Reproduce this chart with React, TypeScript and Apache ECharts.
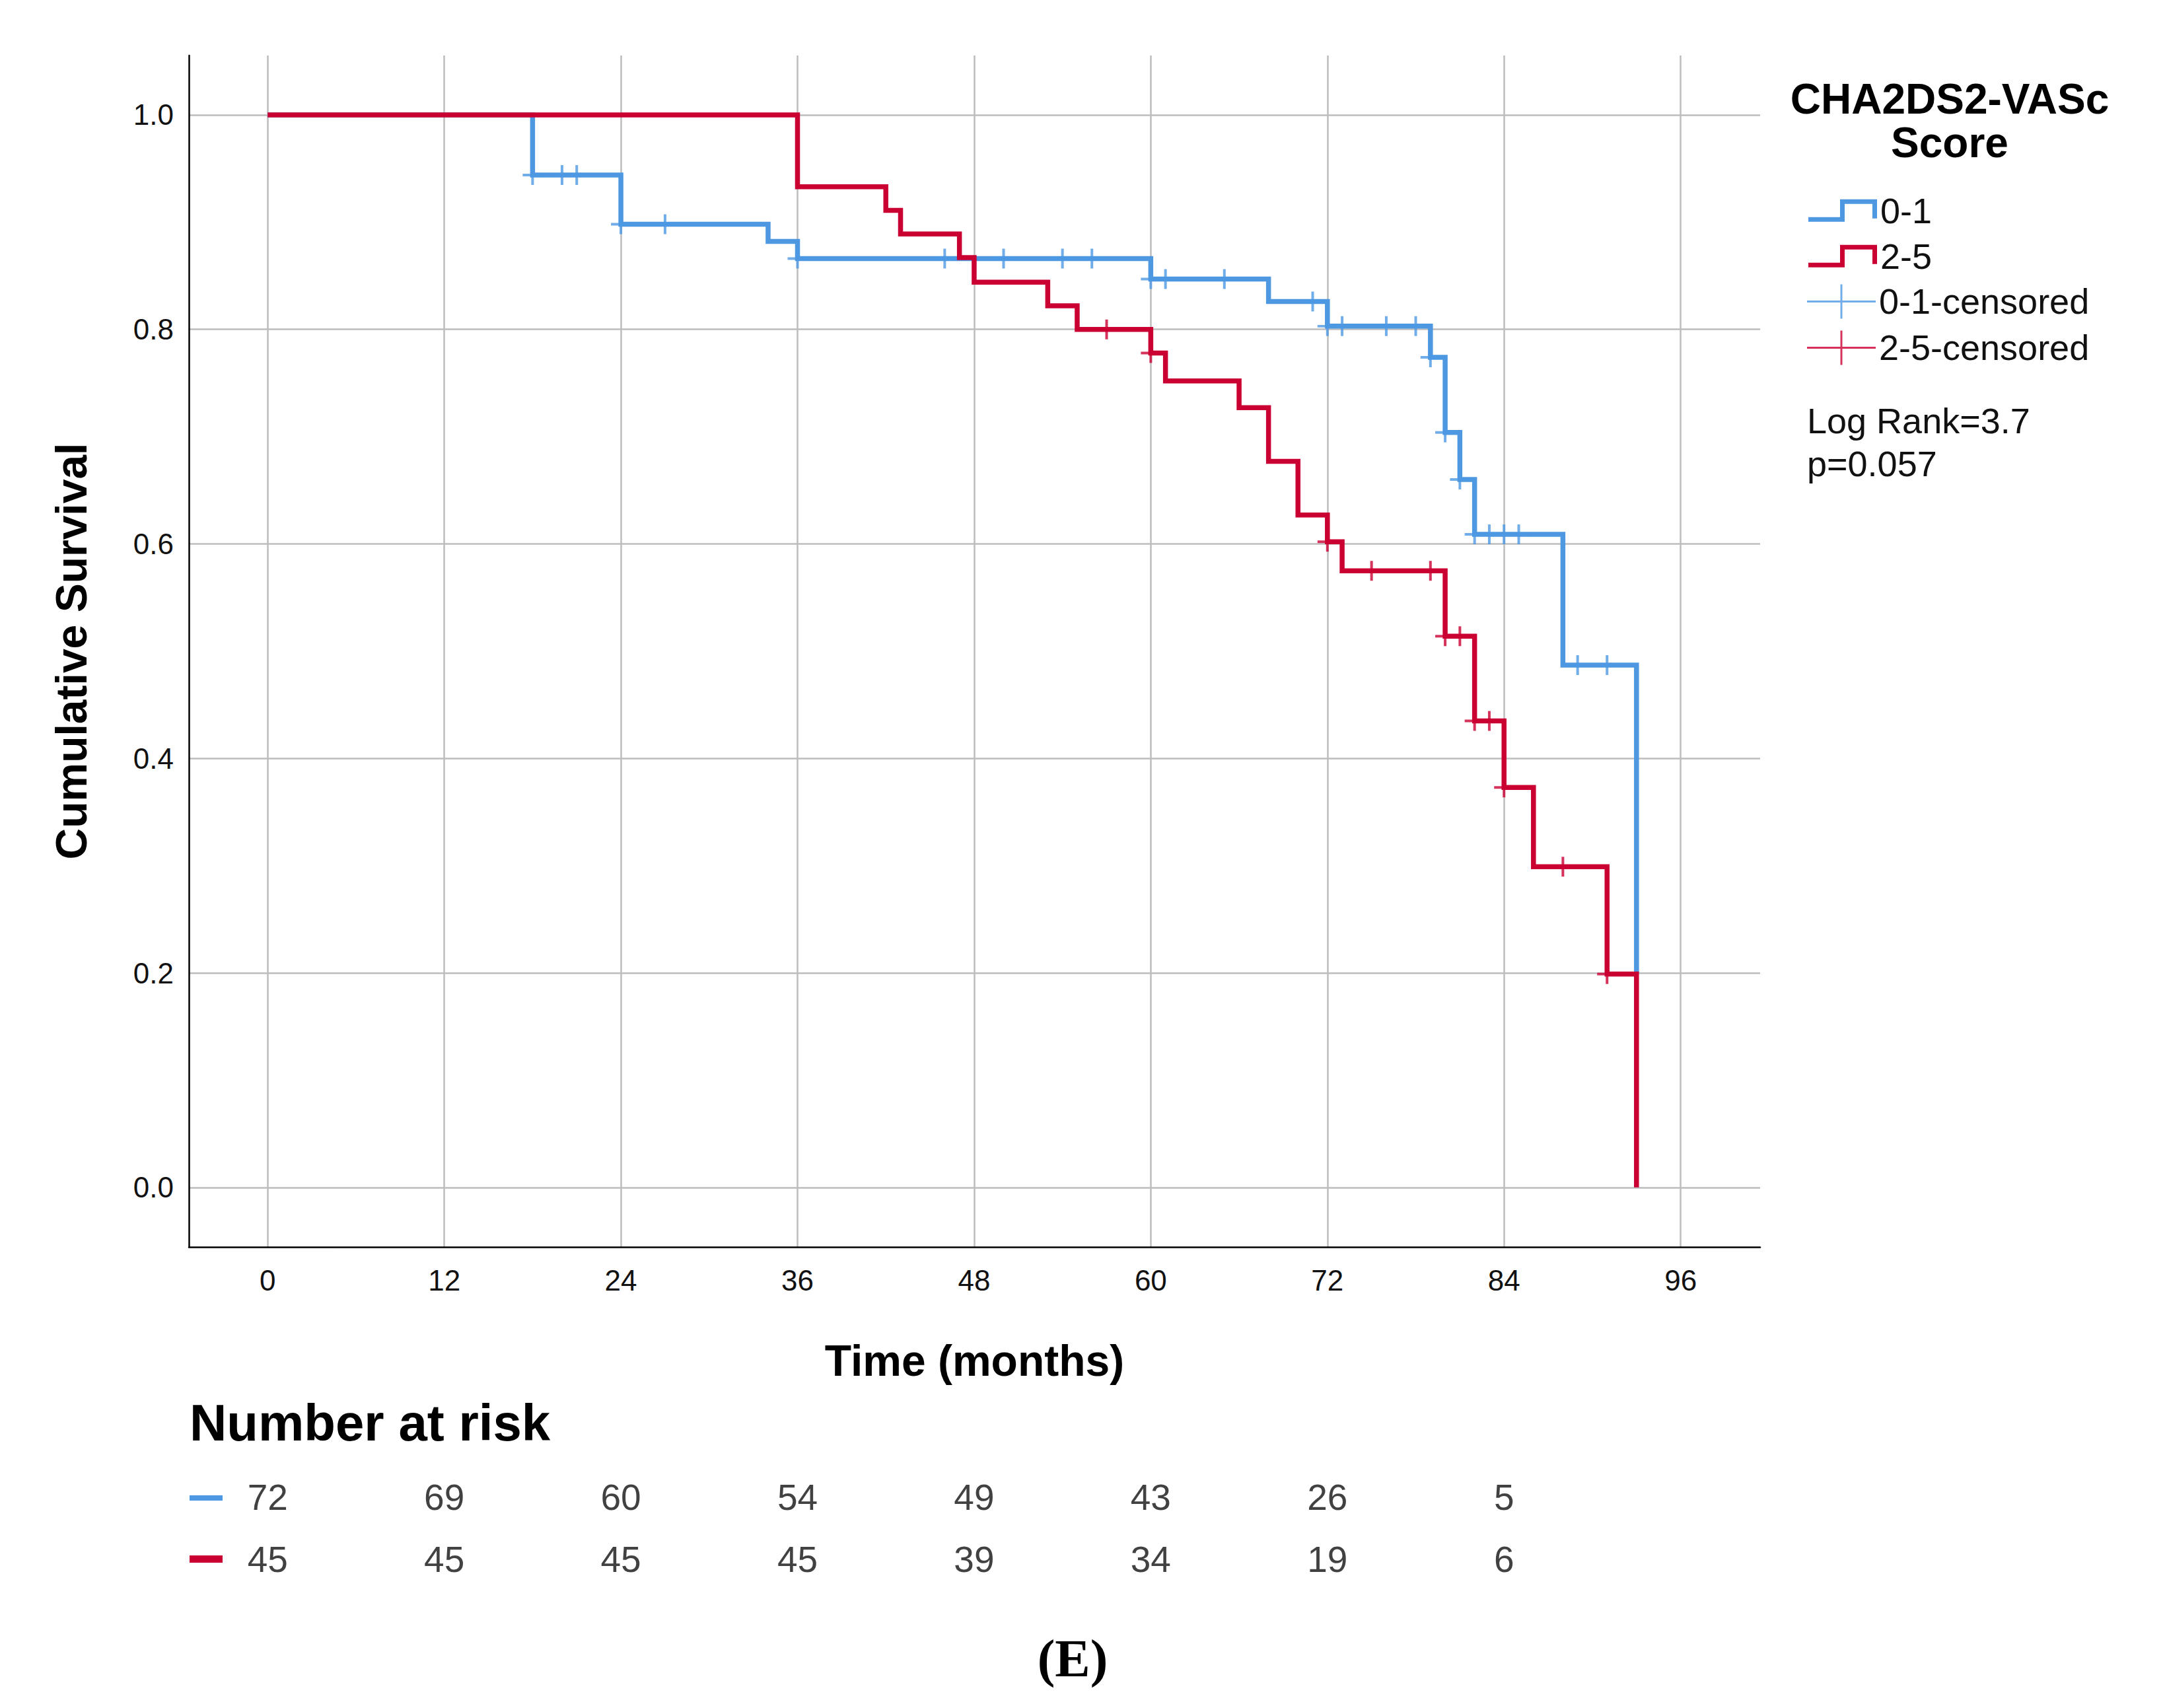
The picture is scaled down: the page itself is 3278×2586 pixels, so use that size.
import React, { useEffect, useRef } from "react";
import * as echarts from "echarts";

// ---- data ----
const xTickValues = [0, 12, 24, 36, 48, 60, 72, 84, 96];
const yTickValues = [0, 0.2, 0.4, 0.6, 0.8, 1.0];

const groupNames = ["0-1", "2-5"];

// Kaplan-Meier steps, score 0-1
const lowTimes = [0, 18, 24, 34, 36, 60, 68, 72, 79, 80, 81, 82, 88, 93];
const lowSurvival = [1.0, 0.944, 0.898, 0.882, 0.866, 0.847, 0.826, 0.803, 0.774, 0.704, 0.66, 0.609, 0.487, 0.2];

// Kaplan-Meier steps, score 2-5
const highTimes = [0, 36, 42, 43, 47, 48, 53, 55, 60, 61, 66, 68, 70, 72, 73, 80, 82, 84, 86, 91, 93];
const highSurvival = [1.0, 0.933, 0.911, 0.889, 0.867, 0.844, 0.822, 0.8, 0.778, 0.752, 0.727, 0.677, 0.627, 0.602, 0.575, 0.514, 0.435, 0.373, 0.299, 0.199, 0.0];

// censored observations
const lowCensorTimes = [18, 20, 21, 24, 27, 36, 46, 50, 54, 56, 60, 61, 65, 71, 72, 73, 76, 78, 79, 80, 81, 82, 83, 84, 85, 89, 91];
const lowCensorSurvival = [0.944, 0.944, 0.944, 0.898, 0.898, 0.866, 0.866, 0.866, 0.866, 0.866, 0.847, 0.847, 0.847, 0.826, 0.803, 0.803, 0.803, 0.803, 0.774, 0.704, 0.66, 0.609, 0.609, 0.609, 0.609, 0.487, 0.487];
const highCensorTimes = [57, 60, 72, 75, 79, 80, 81, 82, 83, 84, 88, 91];
const highCensorSurvival = [0.8, 0.778, 0.602, 0.575, 0.575, 0.514, 0.514, 0.435, 0.435, 0.373, 0.299, 0.199];

// number at risk
const riskMonths = [0, 12, 24, 36, 48, 60, 72, 84];
const riskLow = [72, 69, 60, 54, 49, 43, 26, 5];
const riskHigh = [45, 45, 45, 45, 39, 34, 19, 6];

// ---- styles ----
const BLUE = "#4E98E2";
const RED = "#CB0032";
const FONT = "'Liberation Sans', Arial, sans-serif";
const GRID_COLOR = "#BDBDBD";
const X_MIN = -5.35;
const X_MAX = 101.4;
const Y_MIN = -0.0555;
const Y_MAX = 1.0554;

const CENSOR_SYMBOL =
  "path://M13,0 H17 V13 H30 V17 H17 V30 H13 V17 H0 V13 H13 Z";
const STEP_ICON = "path://M0,27 H48 V0 H104 V29 H97 V7 H55 V34 H0 Z";
const PLUS_ICON =
  "path://M0,24.5 H50.5 V0 H53.5 V24.5 H104 V27.5 H53.5 V52 H50.5 V27.5 H0 Z";

function zip(a: number[], b: number[]) {
  return a.map((v, i) => [v, b[i]]);
}

export default function App() {
  const ref = useRef<HTMLDivElement | null>(null);

  useEffect(() => {
    if (!ref.current) return;
    const chart = echarts.init(ref.current, undefined, { renderer: "svg" });

    const riskLabel = {
      show: true,
      position: "inside",
      fontSize: 55,
      color: "#111",
      fontFamily: FONT,
      formatter: (p: any) => String(p.value[2]),
    };

    const option: any = {
      animation: false,
      backgroundColor: "#ffffff",
      textStyle: { fontFamily: FONT },
      grid: [
        { left: 286, top: 84, width: 2379, height: 1804, containLabel: false, outerBoundsMode: "none" },
        { left: 286, top: 2220, width: 2379, height: 188, containLabel: false, outerBoundsMode: "none" },
      ],
      xAxis: [
        {
          type: "value",
          gridIndex: 0,
          min: X_MIN,
          max: X_MAX,
          name: "Time (months)",
          nameLocation: "middle",
          nameGap: 139,
          nameTextStyle: { fontSize: 66, fontWeight: "bold", color: "#000", fontFamily: FONT },
          axisLine: { show: true, onZero: false, lineStyle: { color: "#000", width: 2.5 } },
          axisTick: { show: false, customValues: xTickValues },
          axisLabel: {
            customValues: xTickValues,
            fontSize: 44,
            color: "#111",
            margin: 28,
            fontFamily: FONT,
            formatter: (v: number) => String(Math.round(v)),
          },
          splitLine: { show: true, lineStyle: { color: GRID_COLOR, width: 2.5 } },
        },
        {
          type: "value",
          gridIndex: 1,
          min: X_MIN,
          max: X_MAX,
          show: false,
        },
      ],
      yAxis: [
        {
          type: "value",
          gridIndex: 0,
          min: Y_MIN,
          max: Y_MAX,
          name: "Cumulative Survival",
          nameLocation: "middle",
          nameGap: 145,
          nameTextStyle: { fontSize: 66, fontWeight: "bold", color: "#000", fontFamily: FONT },
          axisLine: { show: true, onZero: false, lineStyle: { color: "#000", width: 2.5 } },
          axisTick: { show: false, customValues: yTickValues },
          axisLabel: {
            customValues: yTickValues,
            fontSize: 44,
            color: "#111",
            margin: 23,
            fontFamily: FONT,
            formatter: (v: number) => v.toFixed(1),
          },
          splitLine: { show: true, lineStyle: { color: GRID_COLOR, width: 2.5 } },
        },
        {
          type: "category",
          gridIndex: 1,
          data: groupNames,
          inverse: true,
          show: false,
        },
      ],
      legend: [
        {
          orient: "vertical",
          left: 2738,
          top: 290.7,
          padding: 0,
          itemWidth: 104,
          itemHeight: 34,
          itemGap: 13,
          selectedMode: false,
          itemStyle: { borderWidth: 0 },
          textStyle: { fontSize: 54, lineHeight: 56, color: "#111", fontFamily: FONT },
          data: [
            { name: "0-1", icon: STEP_ICON },
            { name: "2-5", icon: STEP_ICON },
          ],
        },
        {
          orient: "vertical",
          left: 2736,
          top: 428.4,
          padding: 0,
          itemWidth: 104,
          itemHeight: 52,
          itemGap: 14,
          selectedMode: false,
          itemStyle: { borderWidth: 0 },
          textStyle: { fontSize: 54, lineHeight: 56, color: "#111", fontFamily: FONT },
          data: [
            { name: "0-1-censored", icon: PLUS_ICON },
            { name: "2-5-censored", icon: PLUS_ICON },
          ],
        },
      ],
      series: [
        {
          type: "line",
          name: "0-1",
          xAxisIndex: 0,
          yAxisIndex: 0,
          data: zip(lowTimes, lowSurvival),
          step: "end",
          symbol: "none",
          showSymbol: false,
          color: BLUE,
          lineStyle: { color: BLUE, width: 7.5, cap: "butt", join: "miter" },
          itemStyle: { color: BLUE },
          z: 3,
        },
        {
          type: "scatter",
          name: "0-1-censored",
          xAxisIndex: 0,
          yAxisIndex: 0,
          data: zip(lowCensorTimes, lowCensorSurvival),
          symbol: CENSOR_SYMBOL,
          symbolSize: 30,
          color: BLUE,
          itemStyle: { color: BLUE },
          z: 4,
        },
        {
          type: "line",
          name: "2-5",
          xAxisIndex: 0,
          yAxisIndex: 0,
          data: zip(highTimes, highSurvival),
          step: "end",
          symbol: "none",
          showSymbol: false,
          color: RED,
          lineStyle: { color: RED, width: 7.5, cap: "butt", join: "miter" },
          itemStyle: { color: RED },
          z: 5,
        },
        {
          type: "scatter",
          name: "2-5-censored",
          xAxisIndex: 0,
          yAxisIndex: 0,
          data: zip(highCensorTimes, highCensorSurvival),
          symbol: CENSOR_SYMBOL,
          symbolSize: 30,
          color: RED,
          itemStyle: { color: RED },
          z: 6,
        },
        {
          type: "scatter",
          name: "risk 0-1",
          xAxisIndex: 1,
          yAxisIndex: 1,
          data: riskMonths.map((m, i) => [m, groupNames[0], riskLow[i]]),
          symbolSize: 1,
          itemStyle: { color: "rgba(0,0,0,0)" },
          label: riskLabel,
          silent: true,
        },
        {
          type: "scatter",
          name: "risk 2-5",
          xAxisIndex: 1,
          yAxisIndex: 1,
          data: riskMonths.map((m, i) => [m, groupNames[1], riskHigh[i]]),
          symbolSize: 1,
          itemStyle: { color: "rgba(0,0,0,0)" },
          label: riskLabel,
          silent: true,
        },
      ],
      graphic: [
        {
          type: "text",
          x: 2952,
          y: 183,
          style: {
            text: "CHA2DS2-VASc\nScore",
            fontSize: 64,
            fontWeight: "bold",
            lineHeight: 66,
            fill: "#000",
            fontFamily: FONT,
            textAlign: "center",
            textVerticalAlign: "middle",
          },
        },
        {
          type: "text",
          x: 2736,
          y: 637,
          style: { text: "Log Rank=3.7", fontSize: 54, fill: "#111", fontFamily: FONT, textVerticalAlign: "middle" },
        },
        {
          type: "text",
          x: 2736,
          y: 702,
          style: { text: "p=0.057", fontSize: 54, fill: "#111", fontFamily: FONT, textVerticalAlign: "middle" },
        },
        {
          type: "text",
          x: 287,
          y: 2154,
          style: {
            text: "Number at risk",
            fontSize: 78,
            fontWeight: "bold",
            fill: "#000",
            fontFamily: FONT,
            textVerticalAlign: "middle",
          },
        },
        {
          type: "rect",
          shape: { x: 287, y: 2264, width: 50, height: 8 },
          style: { fill: BLUE },
        },
        {
          type: "rect",
          shape: { x: 287, y: 2355, width: 50, height: 11 },
          style: { fill: RED },
        },
        {
          type: "text",
          x: 1624,
          y: 2511,
          style: {
            text: "(E)",
            fontSize: 80,
            fontWeight: "bold",
            fill: "#000",
            fontFamily: "'Liberation Serif', 'Times New Roman', serif",
            textAlign: "center",
            textVerticalAlign: "middle",
          },
        },
      ],
    };

    chart.setOption(option);
    return () => {
      chart.dispose();
    };
  }, []);

  return (
    <div
      ref={ref}
      style={{ position: "absolute", left: 0, top: 0, width: "3278px", height: "2586px", background: "#fff" }}
    />
  );
}
